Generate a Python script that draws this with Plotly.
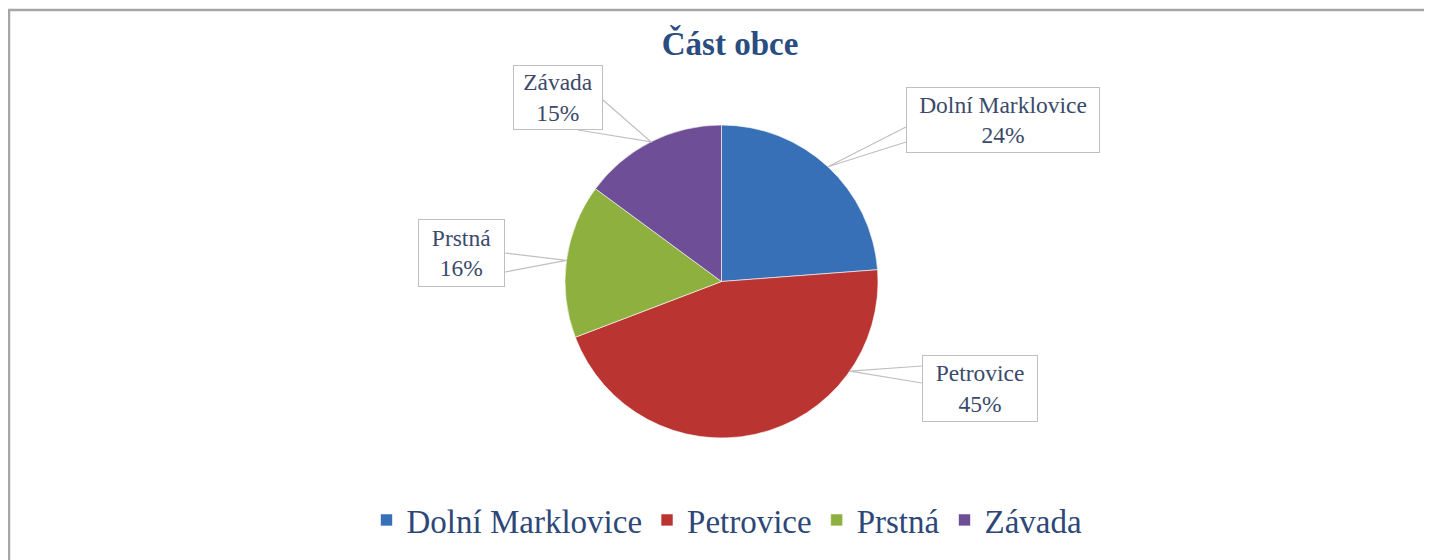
import math
import plotly.graph_objects as go

# ---- data ----
categories = ["Dolní Marklovice", "Petrovice", "Prstná", "Závada"]
values = [23.8, 45.4, 15.9, 14.9]
colors = ["#3770B6", "#BA3531", "#8DB03F", "#6D4E97"]

# ---- layout helpers (page pixels -> paper); page body has an 8px margin ----
W, H = 1432, 560
OFF = 8
FW, FH = W - OFF, H - OFF
def px(x):
    return (x - OFF) / FW
def py(y):
    return 1 - (y - OFF) / FH

CX, CY, R = 721.5, 281.5, 156.5          # pie centre / radius in page px

# callout boxes: centre x, centre y, width, height (page px)
box_cx = [1003, 980, 461.5, 558]
box_cy = [120, 388.5, 253, 97.5]
box_w = [194, 116, 87, 90]
box_h = [66, 67, 68, 65]
# wedge base points on the boxes (page px)
wedge_a = [(906, 127), (922, 366), (505, 253), (603, 100)]
wedge_b = [(906, 142), (922, 383), (505, 272), (578, 130)]
# where along each slice the leader attaches (fraction of slice angle)
anchor_frac = [0.5, 0.24, 0.5, 0.5]

fig = go.Figure()
fig.add_trace(go.Pie(
    labels=categories,
    values=values,
    sort=False,
    direction="clockwise",
    rotation=0,
    textinfo="none",
    hoverinfo="label+percent",
    marker=dict(colors=colors, line=dict(color="rgba(255,255,255,0.6)", width=1)),
    domain=dict(x=[px(CX - R), px(CX + R)], y=[py(CY + R), py(CY - R)]),
))

total = sum(values)
cum = 0.0
shapes = []
annotations = []
for i, (cat, v) in enumerate(zip(categories, values)):
    a0 = cum / total * 360
    a1 = (cum + v) / total * 360
    cum += v
    ang = math.radians(a0 + anchor_frac[i] * (a1 - a0))
    tx = CX + R * math.sin(ang)
    ty = CY - R * math.cos(ang)
    ax_, ay_ = wedge_a[i]
    bx_, by_ = wedge_b[i]
    shapes.append(dict(
        type="path", xref="paper", yref="paper",
        path=f"M{px(ax_)},{py(ay_)} L{px(tx)},{py(ty)} L{px(bx_)},{py(by_)}",
        line=dict(color="#BFBFBF", width=1.2),
    ))
    pct = round(v / total * 100)
    annotations.append(dict(
        xref="paper", yref="paper",
        x=px(box_cx[i]), y=py(box_cy[i]),
        xanchor="center", yanchor="middle",
        text=f"{cat}<br>{pct}%",
        showarrow=False,
        font=dict(family="Liberation Serif", size=23.5, color="#3B4A6A"),
        bgcolor="white",
        bordercolor="#BFBFBF",
        borderwidth=1,
        borderpad=1,
        width=box_w[i] - 4,
        height=box_h[i] - 4,
        align="center",
    ))

# outer chart border (cropped on the right and bottom)
shapes.append(dict(
    type="rect", xref="paper", yref="paper",
    x0=px(9), x1=1.05, y0=-0.05, y1=py(10),
    line=dict(color="#A6A6A6", width=2.5),
    fillcolor="rgba(0,0,0,0)",
))

fig.update_layout(
    width=FW, height=FH,
    margin=dict(l=0, r=0, t=0, b=0),
    paper_bgcolor="white",
    plot_bgcolor="white",
    title=dict(
        text="<b>Část obce</b>",
        x=px(730), xanchor="center",
        y=py(43), yanchor="middle",
        font=dict(family="Liberation Serif", size=33, color="#2A4C80"),
    ),
    showlegend=True,
    legend=dict(
        orientation="h",
        x=px(727), xanchor="center",
        y=py(520), yanchor="middle",
        font=dict(family="Liberation Serif", size=33, color="#2D4878"),
        traceorder="normal",
    ),
    shapes=shapes,
    annotations=annotations,
)

fig.write_html("out.html")
